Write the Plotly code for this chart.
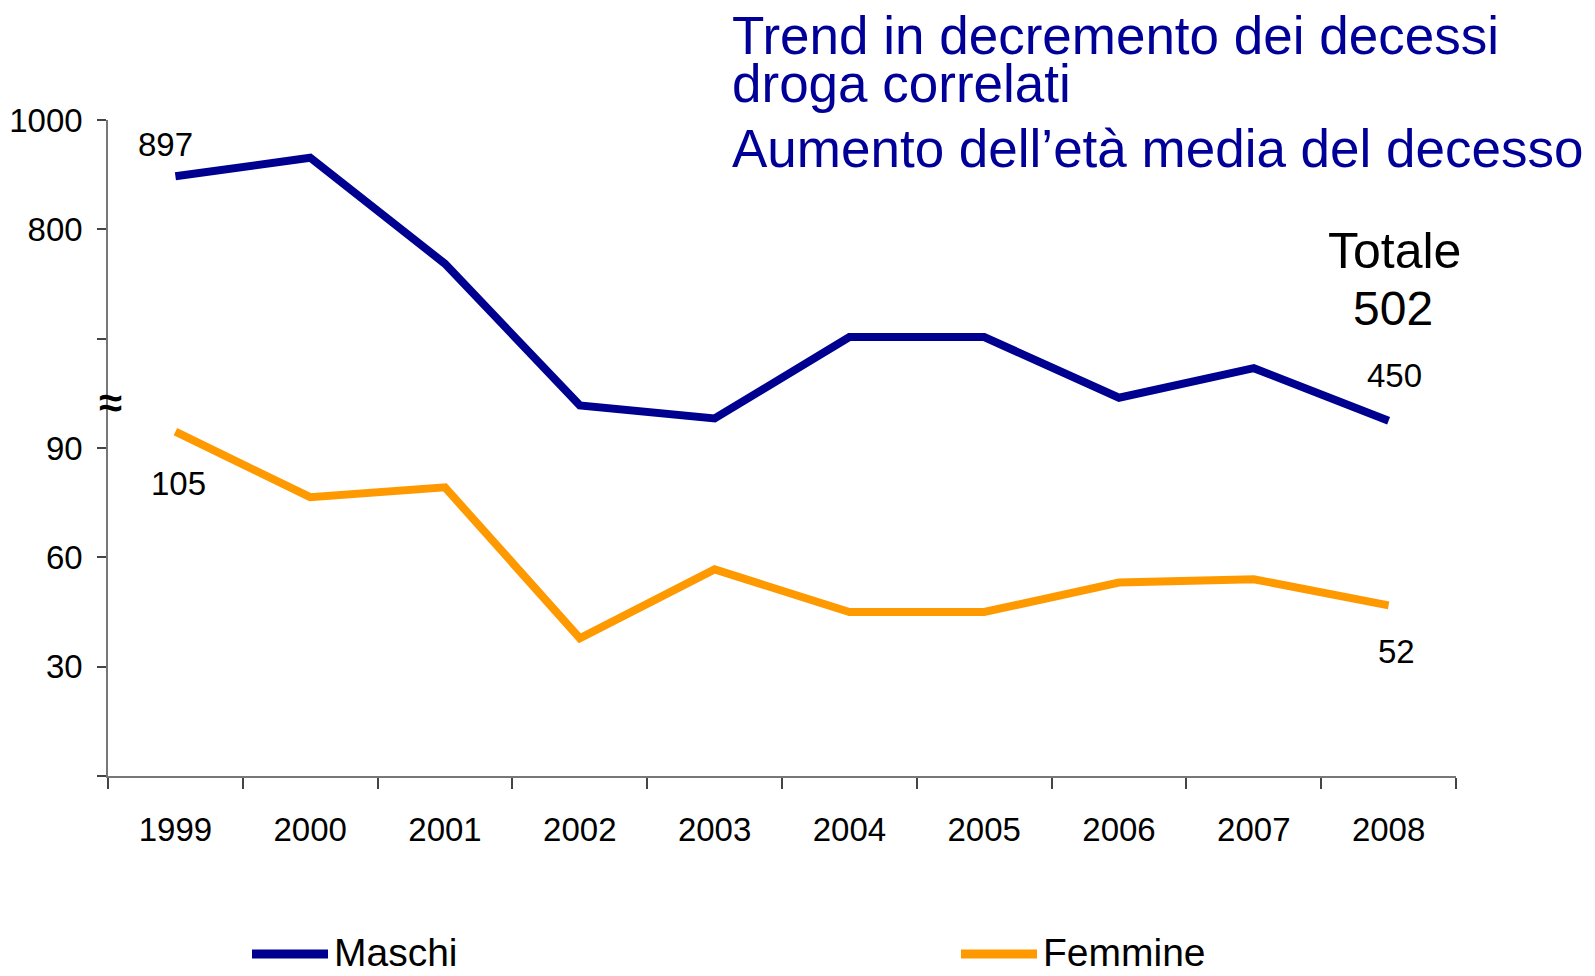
import plotly.graph_objects as go

years = ["1999", "2000", "2001", "2002", "2003", "2004", "2005", "2006", "2007", "2008"]
maschi = [897, 931, 737, 478, 454, 603, 603, 492, 546, 450]
femmine = [105, 85, 88, 42, 63, 50, 50, 59, 60, 52]
totale_2008 = 502

y_tick_vals = [0, 30, 60, 90, 120, 150, 180]
y_tick_text = ["", "30", "60", "90", "", "800", "1000"]

title_lines = ["Trend in decremento dei decessi", "droga correlati",
               "Aumento dell\u2019et\u00e0 media del decesso"]
legend_names = ["Maschi", "Femmine"]

NAVY = "#000090"
ORANGE = "#FF9900"
TITLE_BLUE = "#000099"
FONT = "Liberation Sans, Arial, sans-serif"

# page has an 8px body margin; figure sized to fit inside the window
OFF = 8
W, H = 1595 - 2 * OFF, 976 - 2 * OFF
L, T = 108 - OFF, 120 - OFF
PW, PH = 1348, 656
R, B = W - L - PW, H - T - PH

fig = go.Figure()

# invisible trace to own the left (labelled) axis
fig.add_trace(go.Scatter(x=years, y=[None] * len(years), yaxis="y",
                         showlegend=False, hoverinfo="skip"))
fig.add_trace(go.Scatter(x=years, y=maschi, name=legend_names[0], yaxis="y2",
                         mode="lines", line=dict(color=NAVY, width=8),
                         showlegend=False))
fig.add_trace(go.Scatter(x=years, y=femmine, name=legend_names[1], yaxis="y3",
                         mode="lines", line=dict(color=ORANGE, width=8),
                         showlegend=False))

hidden = dict(overlaying="y", showline=False, showgrid=False, zeroline=False,
              showticklabels=False, ticks="")
fig.update_layout(
    width=W, height=H,
    margin=dict(l=L, r=R, t=T, b=B, autoexpand=False),
    paper_bgcolor="white", plot_bgcolor="white",
    font=dict(family=FONT, color="black", size=33),
    xaxis=dict(type="category", range=[-0.5, 9.5], showline=True,
               linecolor="#777777", linewidth=1.5, ticks="outside",
               tickson="boundaries", ticklen=11, tickcolor="#444444",
               tickwidth=1.5, showgrid=False, zeroline=False, automargin=False,
               tickfont=dict(size=33), ticklabelstandoff=24),
    yaxis=dict(range=[0, 180], tickvals=y_tick_vals, ticktext=y_tick_text,
               showline=True, linecolor="#777777", linewidth=1.5,
               ticks="outside", ticklen=9, tickcolor="#444444", tickwidth=1.5,
               showgrid=False, zeroline=False, automargin=False,
               tickfont=dict(size=33), ticklabelstandoff=8),
    yaxis2=dict(range=[-200, 1000], **hidden),
    yaxis3=dict(range=[0, 200], **hidden),
    showlegend=False,
)

annotations = []
# data labels (category axis: reference first / last category by index)
first, last = 0, len(years) - 1
lab_font = dict(size=33, color="black", family=FONT)
annotations.append(dict(x=first, y=maschi[first], xref="x", yref="y2",
                        text=str(maschi[first]), showarrow=False, font=lab_font,
                        xshift=-10, yshift=32))
annotations.append(dict(x=last, y=maschi[last], xref="x", yref="y2",
                        text=str(maschi[last]), showarrow=False, font=lab_font,
                        xshift=6, yshift=45))
annotations.append(dict(x=first, y=femmine[first], xref="x", yref="y3",
                        text=str(femmine[first]), showarrow=False, font=lab_font,
                        xshift=3, yshift=-52))
annotations.append(dict(x=last, y=femmine[last], xref="x", yref="y3",
                        text=str(femmine[last]), showarrow=False, font=lab_font,
                        xshift=8, yshift=-46))

# window pixel -> paper (plot-area relative) coordinates
def px(x): return (x - OFF - L) / PW
def py(y): return (T + PH - (y - OFF)) / PH

tfont = dict(size=53, color=TITLE_BLUE, family=FONT)
for text, base in zip(title_lines, [55, 103, 168]):
    annotations.append(dict(x=px(730), y=py(base + 12), xref="paper", yref="paper",
                            text=text, showarrow=False, font=tfont,
                            xanchor="left", yanchor="bottom"))

annotations.append(dict(x=px(1394), y=py(270 + 11), xref="paper", yref="paper",
                        text="Totale", showarrow=False,
                        font=dict(size=50, color="black", family=FONT),
                        xanchor="center", yanchor="bottom"))
annotations.append(dict(x=px(1393), y=py(326 + 11), xref="paper", yref="paper",
                        text=str(totale_2008), showarrow=False,
                        font=dict(size=48, color="black", family=FONT),
                        xanchor="center", yanchor="bottom"))

# axis break symbol
annotations.append(dict(x=px(110), y=py(402), xref="paper", yref="paper",
                        text="<b>\u2248</b>", showarrow=False,
                        font=dict(size=42, color="black", family=FONT),
                        xanchor="center", yanchor="middle"))

# manual legend
shapes = []
for name, color, x0, x1, tx in [(legend_names[0], NAVY, 252, 328, 332),
                                (legend_names[1], ORANGE, 961, 1037, 1041)]:
    shapes.append(dict(type="line", xref="paper", yref="paper",
                       x0=px(x0), x1=px(x1), y0=py(954), y1=py(954),
                       line=dict(color=color, width=9)))
    annotations.append(dict(x=px(tx), y=py(952), xref="paper", yref="paper",
                            text=name, showarrow=False,
                            font=dict(size=39, color="black", family=FONT),
                            xanchor="left", yanchor="middle"))

fig.update_layout(annotations=annotations, shapes=shapes)

fig.write_html("out.html")
